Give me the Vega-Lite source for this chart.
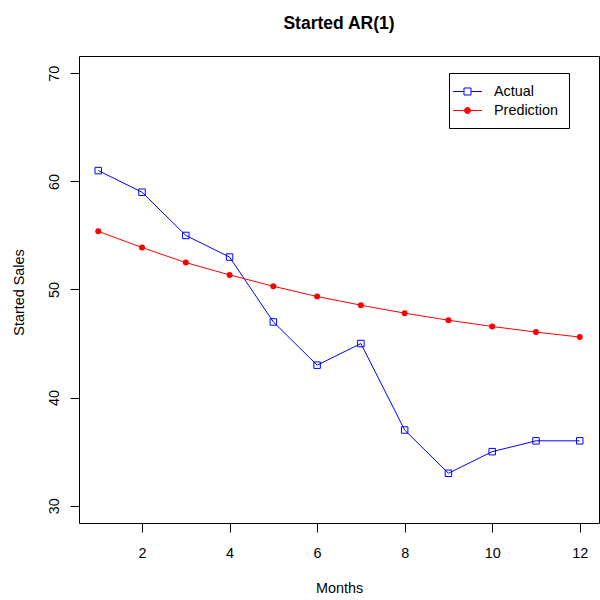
{
  "$schema": "https://vega.github.io/schema/vega-lite/v6.json",
  "width": 520,
  "height": 467,
  "autosize": {"type": "none"},
  "padding": {"left": 79, "top": 56, "right": 1, "bottom": 77},
  "background": "white",
  "title": {
    "text": "Started AR(1)",
    "anchor": "middle",
    "frame": "group",
    "font": "Liberation Sans",
    "fontSize": 17.5,
    "fontWeight": "bold",
    "color": "black",
    "baseline": "alphabetic",
    "offset": 10
  },
  "config": {
    "view": {"stroke": "black", "strokeWidth": 1},
    "axis": {
      "grid": false,
      "domain": false,
      "tickColor": "black",
      "tickSize": 9,
      "tickWidth": 1,
      "labelFont": "Liberation Sans",
      "labelFontSize": 14.4,
      "labelColor": "black",
      "titleFont": "Liberation Sans",
      "titleFontSize": 14.4,
      "titleFontWeight": "normal",
      "titleColor": "black"
    }
  },
  "data": {
    "values": [
      {"month": 1, "series": "Actual", "value": 61},
      {"month": 2, "series": "Actual", "value": 59},
      {"month": 3, "series": "Actual", "value": 55},
      {"month": 4, "series": "Actual", "value": 53},
      {"month": 5, "series": "Actual", "value": 47},
      {"month": 6, "series": "Actual", "value": 43},
      {"month": 7, "series": "Actual", "value": 45},
      {"month": 8, "series": "Actual", "value": 37},
      {"month": 9, "series": "Actual", "value": 33},
      {"month": 10, "series": "Actual", "value": 35},
      {"month": 11, "series": "Actual", "value": 36},
      {"month": 12, "series": "Actual", "value": 36},
      {"month": 1, "series": "Prediction", "value": 55.38},
      {"month": 2, "series": "Prediction", "value": 53.88},
      {"month": 3, "series": "Prediction", "value": 52.49},
      {"month": 4, "series": "Prediction", "value": 51.35},
      {"month": 5, "series": "Prediction", "value": 50.3},
      {"month": 6, "series": "Prediction", "value": 49.35},
      {"month": 7, "series": "Prediction", "value": 48.55},
      {"month": 8, "series": "Prediction", "value": 47.81},
      {"month": 9, "series": "Prediction", "value": 47.16},
      {"month": 10, "series": "Prediction", "value": 46.58},
      {"month": 11, "series": "Prediction", "value": 46.06},
      {"month": 12, "series": "Prediction", "value": 45.6}
    ]
  },
  "encoding": {
    "x": {
      "field": "month",
      "type": "quantitative",
      "scale": {"domain": [0.56, 12.44], "nice": false, "zero": false},
      "axis": {
        "title": "Months",
        "values": [2, 4, 6, 8, 10, 12],
        "labelBaseline": "alphabetic",
        "labelPadding": 25,
        "titleBaseline": "alphabetic",
        "titleX": 260,
        "titleY": 69.7
      }
    },
    "y": {
      "field": "value",
      "type": "quantitative",
      "scale": {"domain": [28.4, 71.6], "nice": false, "zero": false},
      "axis": {
        "title": "Started Sales",
        "values": [30, 40, 50, 60, 70],
        "labelAngle": 270,
        "labelAlign": "center",
        "labelBaseline": "alphabetic",
        "labelPadding": 11.7,
        "titleAngle": 270,
        "titleAlign": "center",
        "titleBaseline": "alphabetic",
        "titleX": -56,
        "titleY": 236
      }
    }
  },
  "layer": [
    {
      "mark": {"type": "line", "strokeWidth": 1},
      "encoding": {
        "color": {
          "field": "series",
          "type": "nominal",
          "scale": {"domain": ["Actual", "Prediction"], "range": ["#0000ff", "#ff0000"]},
          "legend": {
            "title": null,
            "orient": "none",
            "legendX": 370,
            "legendY": 17,
            "strokeColor": "black",
            "fillColor": "white",
            "padding": 11,
            "symbolSize": 196,
            "symbolStrokeWidth": 1,
            "labelFont": "Liberation Sans",
            "labelFontSize": 14.4,
            "labelColor": "black",
            "labelOffset": 19,
            "rowPadding": 4,
            "encode": {
              "symbols": {
                "update": {
                  "shape": {"signal": "datum.value === 'Actual' ? 'M-2.07,0H-0.5M0.5,0H2.07M-0.5,-0.5H0.5V0.5H-0.5Z' : 'M-2.07,0H2.07M-0.43,0A0.43,0.43,0,1,0,0.43,0A0.43,0.43,0,1,0,-0.43,0Z'"},
                  "fill": {"signal": "datum.value === 'Actual' ? 'transparent' : '#ff0000'"},
                  "stroke": {"signal": "datum.value === 'Actual' ? '#0000ff' : '#ff0000'"},
                  "strokeWidth": {"value": 1},
                  "opacity": {"value": 1},
                  "fillOpacity": {"value": 1}
                }
              }
            }
          }
        }
      }
    },
    {
      "transform": [{"filter": "datum.series === 'Actual'"}],
      "mark": {"type": "point", "shape": "square", "filled": false, "color": "#0000ff", "size": 42, "strokeWidth": 1, "opacity": 1}
    },
    {
      "transform": [{"filter": "datum.series === 'Prediction'"}],
      "mark": {"type": "point", "shape": "circle", "filled": true, "color": "#ff0000", "size": 36, "opacity": 1}
    }
  ]
}
